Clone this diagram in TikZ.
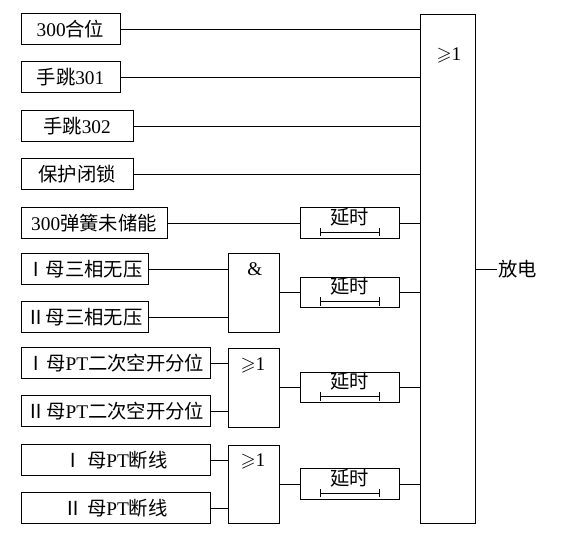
\documentclass[tikz,border=0pt]{standalone}
\usepackage{fontspec}
\usepackage{amssymb}
\setmainfont{Liberation Serif}
\newfontfamily\cjk{Noto Sans CJK SC}
\newcommand{\zh}[1]{{\cjk #1}}

\tikzset{
  every node/.style={font=\fontsize{16.5}{19}\selectfont},
  inbox/.style={draw, line width=0.8pt, minimum height=0.92cm, inner sep=0pt},
  gate/.style={draw, line width=0.8pt, minimum width=1.53cm, inner sep=0pt},
  delaybox/.style={draw, line width=0.8pt, minimum width=2.97cm, minimum height=0.92cm, inner sep=0pt},
  wire/.style={line width=0.8pt},
}

\begin{document}
\begin{tikzpicture}[x=0.03cm, y=-0.03cm]
\useasboundingbox (0,0) rectangle (567,540);

% input boxes
\node[inbox, minimum width=2.97cm] (in_1) at (70.5,29) {300\zh{合位}};
\node[inbox, minimum width=2.97cm] (in_2) at (70.5,77) {\zh{手跳}301};
\node[inbox, minimum width=3.36cm] (in_3) at (77,126) {\zh{手跳}302};
\node[inbox, minimum width=3.36cm] (in_4) at (77,174) {\zh{保护闭锁}};
\node[inbox, minimum width=4.38cm] (in_5) at (94,223) {300\zh{弹簧未储能}};
\node[inbox, minimum width=3.81cm] (in_6) at (84.5,269) {\zh{Ⅰ母三相无压}};
\node[inbox, minimum width=3.81cm] (in_7) at (84.5,317) {\zh{Ⅱ母三相无压}};
\node[inbox, minimum width=5.67cm] (in_8) at (115.5,363) {\zh{Ⅰ母}PT\zh{二次空开分位}};
\node[inbox, minimum width=5.67cm] (in_9) at (115.5,411) {\zh{Ⅱ母}PT\zh{二次空开分位}};
\node[inbox, minimum width=5.67cm] (in_10) at (115.5,460) {\zh{Ⅰ 母}PT\zh{断线}};
\node[inbox, minimum width=5.67cm] (in_11) at (115.5,508) {\zh{Ⅱ 母}PT\zh{断线}};

% gates
\node[gate, minimum height=2.37cm] (and_1) at (253.5,292.5) {};
\node (and_1_text) at (255,269) {\&};
\node[gate, minimum height=2.37cm] (or_1) at (253.5,387.5) {};
\node (or_1_text) at (253,365) {$\geqslant$1};
\node[gate, minimum height=2.34cm] (or_2) at (253.5,484) {};
\node (or_2_text) at (253,461) {$\geqslant$1};

% delays
\node[delaybox] (delay_1) at (349.5,223) {};
\node (delay_1_text) at (349.5,217) {\zh{延时}};
\draw[wire, |-|] (320,232) -- (380,232);
\node[delaybox] (delay_2) at (349.5,292.5) {};
\node (delay_2_text) at (349.5,286.5) {\zh{延时}};
\draw[wire, |-|] (320,301.5) -- (380,301.5);
\node[delaybox] (delay_3) at (349.5,387.5) {};
\node (delay_3_text) at (349.5,381.5) {\zh{延时}};
\draw[wire, |-|] (320,396.5) -- (380,396.5);
\node[delaybox] (delay_4) at (349.5,484) {};
\node (delay_4_text) at (349.5,478) {\zh{延时}};
\draw[wire, |-|] (320,493) -- (380,493);

% output
\node[draw, line width=0.8pt, minimum width=1.65cm, minimum height=15.27cm, inner sep=0pt] (or_main) at (447.5,268.5) {};
\node (or_main_text) at (449,55) {$\geqslant$1};
\node[anchor=west, inner sep=1pt] (discharge) at (497,269) {\zh{放电}};

% wires
\draw[wire] (in_1) -- (in_1 -| or_main.west);
\draw[wire] (in_2) -- (in_2 -| or_main.west);
\draw[wire] (in_3) -- (in_3 -| or_main.west);
\draw[wire] (in_4) -- (in_4 -| or_main.west);
\draw[wire] (in_5) -- (delay_1);
\draw[wire] (in_6) -- (in_6 -| and_1.west);
\draw[wire] (in_7) -- (in_7 -| and_1.west);
\draw[wire] (in_8) -- (in_8 -| or_1.west);
\draw[wire] (in_9) -- (in_9 -| or_1.west);
\draw[wire] (in_10) -- (in_10 -| or_2.west);
\draw[wire] (in_11) -- (in_11 -| or_2.west);
\draw[wire] (and_1) -- (delay_2);
\draw[wire] (or_1) -- (delay_3);
\draw[wire] (or_2) -- (delay_4);
\draw[wire] (delay_1) -- (delay_1 -| or_main.west);
\draw[wire] (delay_2) -- (delay_2 -| or_main.west);
\draw[wire] (delay_3) -- (delay_3 -| or_main.west);
\draw[wire] (delay_4) -- (delay_4 -| or_main.west);
\draw[wire] (or_main.east |- discharge) -- (discharge);
\end{tikzpicture}
\end{document}
